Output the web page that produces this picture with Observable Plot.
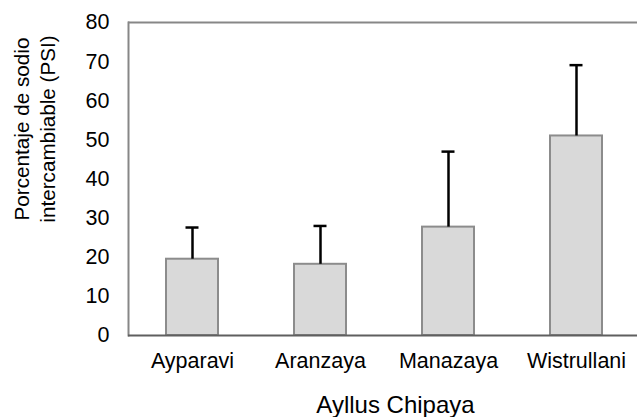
<!DOCTYPE html>
<html>
<head>
<meta charset="utf-8">
<script src="https://cdn.jsdelivr.net/npm/d3@7"></script>
<script src="https://cdn.jsdelivr.net/npm/@observablehq/plot@0.6"></script>
<style>
  html, body { margin: 0; padding: 0; background: #fff; }
  #chart svg { display: block; }
</style>
</head>
<body>
<div id="chart"></div>
<script>
const categories = ["Ayparavi", "Aranzaya", "Manazaya", "Wistrullani"];
const psiValues = [19.5, 18.2, 27.7, 51.0];
const errorTops = [27.6, 28.0, 47.0, 69.1];
const yTicks = [0, 10, 20, 30, 40, 50, 60, 70, 80];
const yTitle = "Porcentaje de sodio\nintercambiable (PSI)";
const xTitle = "Ayllus Chipaya";

const data = categories.map((c, i) => ({ ayllu: c, psi: psiValues[i], top: errorTops[i] }));

const marks = [
  Plot.ruleY([80], { stroke: "#878787", strokeWidth: 2 }),
  Plot.barY(data, { x: "ayllu", y: "psi", fill: "#d9d9d9", stroke: "#8c8c8c", strokeWidth: 2 }),
  Plot.ruleX(data, { x: "ayllu", y1: "psi", y2: "top", stroke: "#000", strokeWidth: 2.5 }),
  Plot.tickY(data, { x: "ayllu", y: "top", stroke: "#000", strokeWidth: 2.5, insetLeft: 19.5, insetRight: 19.5 }),
  Plot.ruleY([0], { stroke: "#5f5f5f", strokeWidth: 2 }),
  Plot.axisY({ ticks: yTicks, tickSize: 0, tickPadding: 19, fontSize: 21.5, label: null }),
  Plot.axisX({ tickSize: 0, tickPadding: 17, fontSize: 21.5, label: null }),
  Plot.text([yTitle], { frameAnchor: "left", textAnchor: "middle", lineAnchor: "middle", rotate: -90, dx: -95, dy: -50, fontSize: 20.7, lineHeight: 1.25, fill: "#000" }),
  Plot.text([xTitle], { frameAnchor: "bottom", textAnchor: "middle", lineAnchor: "middle", dx: 12.5, dy: 69.5, fontSize: 24, fill: "#000" })
];

let frameLeft = null;
try { frameLeft = Plot.frame({ anchor: "left", stroke: "#878787", strokeWidth: 2 }); } catch (e) { frameLeft = null; }
if (frameLeft) marks.unshift(frameLeft);

const chart = Plot.plot({
  width: 637,
  height: 417,
  marginLeft: 128,
  marginRight: 0,
  marginTop: 22,
  marginBottom: 82,
  style: { fontFamily: "'Liberation Sans', Arial, sans-serif", fontSize: "20px", color: "#000", background: "#fff" },
  x: { domain: categories, range: [128, 640], paddingInner: 0.594, paddingOuter: 0.297, label: null },
  y: { domain: [0, 80], label: null },
  marks
});
document.getElementById("chart").appendChild(chart);
</script>
</body>
</html>
